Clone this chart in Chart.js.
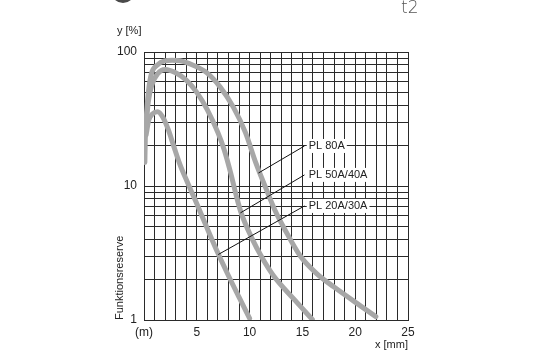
<!DOCTYPE html>
<html>
<head>
<meta charset="utf-8">
<script src="https://cdn.jsdelivr.net/npm/chart.js@4/dist/chart.umd.min.js"></script>
<style>
html,body{margin:0;padding:0;background:#fff;}
canvas{display:block;}
</style>
</head>
<body>
<canvas id="c" width="560" height="352"></canvas>
<script>
// ---- data ----
const seriesNames = ['PL 80A', 'PL 50A/40A', 'PL 20A/30A'];

const pl80X = [0.08, 0.12, 0.29, 0.57, 1.24, 2.66, 3.42, 4.66, 5.99, 7.22, 8.46, 9.6, 10.6, 11.5, 12.4, 13.3, 14.8, 16.3, 18.0, 20.53, 21.96];
const pl80Y = [15, 22, 38.8, 61.6, 79.6, 86.7, 86, 79.6, 69.5, 54.7, 38.8, 25.1, 14.8, 9.8, 6.6, 4.8, 3.0, 2.24, 1.76, 1.27, 1.06];

const pl50X = [0.2, 0.4, 0.75, 1.3, 2.0, 3.0, 4.0, 5.0, 6.0, 7.0, 7.6, 8.2, 8.8, 9.2, 10.2, 11.2, 12.3, 14.2, 15.94];
const pl50Y = [28, 42, 57, 69, 74, 70, 61.7, 50, 37, 25, 18.6, 12.6, 8.1, 6.3, 4.1, 2.9, 2.12, 1.43, 1.01];

const pl20X = [0.2, 0.45, 0.8, 1.3, 1.8, 2.3, 2.8, 3.4, 4.1, 4.85, 5.9, 7.05, 8.0, 9.0, 10.0];
const pl20Y = [24, 31, 34.5, 35.8, 32.4, 26.3, 20, 14.5, 10.7, 7.85, 5.0, 3.09, 2.14, 1.48, 1.03];

const xTickLabels = {0: '(m)', 5: '5', 10: '10', 15: '15', 20: '20', 25: '25'};
const yTickLabels = {1: '1', 10: '10', 100: '100'};
const yGridValues = [1,2,3,4,5,6,7,8,9,10,20,30,40,50,60,70,80,90,100];

// label anchors (data units)
const labelX = [15.6, 15.6, 15.6];
const labelY = [19.9, 12.1, 7.1];
const pointerStartX = [15.2, 15.2, 15.2];
const pointerEndX = [10.84, 9.13, 7.03];
const pointerEndY = [12.5, 6.3, 3.08];

const toPts = (xs, ys) => xs.map((v, i) => ({x: v, y: ys[i]}));

const FONT = '"Liberation Sans", Arial, sans-serif';
const curveColor = '#a7a7a7';

const deco = {
  id: 'deco',
  afterDatasetsDraw(chart) {
    const {ctx, scales: {x, y}} = chart;
    ctx.save();
    ctx.font = '11px ' + FONT;
    ctx.textBaseline = 'middle';
    ctx.textAlign = 'left';
    for (let i = 0; i < seriesNames.length; i++) {
      const sx = x.getPixelForValue(pointerStartX[i]);
      const sy = y.getPixelForValue(labelY[i]);
      const ex = x.getPixelForValue(pointerEndX[i]);
      const ey = y.getPixelForValue(pointerEndY[i]);
      ctx.strokeStyle = '#111';
      ctx.lineWidth = 1;
      ctx.beginPath();
      ctx.moveTo(sx, sy);
      ctx.lineTo(ex, ey);
      ctx.stroke();
      const tx = x.getPixelForValue(labelX[i]);
      const w = ctx.measureText(seriesNames[i]).width;
      ctx.fillStyle = '#fff';
      ctx.fillRect(tx - 2, sy - 7, w + 4, 14);
      ctx.fillStyle = '#222';
      ctx.fillText(seriesNames[i], tx, sy + 0.5);
    }
    ctx.restore();
  },
  afterDraw(chart) {
    const ctx = chart.ctx;
    ctx.save();
    ctx.fillStyle = '#222';
    ctx.font = '11px ' + FONT;
    ctx.textBaseline = 'middle';
    ctx.textAlign = 'left';
    ctx.fillText('y [%]', 117, 31);
    ctx.fillStyle = '#555';
    ctx.font = '200 17px "DejaVu Sans", ' + FONT;
    ctx.textBaseline = 'alphabetic';
    ctx.fillText('t2', 401, 13);
    ctx.fillStyle = '#4a4a4a';
    ctx.beginPath();
    ctx.arc(123, -9, 12, 0, Math.PI * 2);
    ctx.fill();
    ctx.restore();
  }
};

const lineStyle = {
  borderColor: curveColor,
  borderWidth: 5,
  pointRadius: 0,
  fill: false,
  cubicInterpolationMode: 'monotone',
  borderCapStyle: 'round',
  borderJoinStyle: 'round'
};

new Chart(document.getElementById('c'), {
  type: 'line',
  data: {
    datasets: [
      Object.assign({label: seriesNames[0], data: toPts(pl80X, pl80Y)}, lineStyle),
      Object.assign({label: seriesNames[1], data: toPts(pl50X, pl50Y)}, lineStyle),
      Object.assign({label: seriesNames[2], data: toPts(pl20X, pl20Y)}, lineStyle)
    ]
  },
  options: {
    responsive: false,
    animation: false,
    devicePixelRatio: 1,
    layout: {padding: {left: 110, right: 152, top: 52, bottom: 0}},
    plugins: {legend: {display: false}, tooltip: {enabled: false}},
    scales: {
      x: {
        type: 'linear',
        min: 0, max: 25,
        afterBuildTicks: s => { s.ticks = Array.from({length: 26}, (_, i) => ({value: i})); },
        afterFit: s => { s.height = 32; },
        grid: {color: '#2a2a2a', lineWidth: 1, drawTicks: false},
        border: {color: '#2a2a2a', width: 1},
        ticks: {
          autoSkip: false, maxRotation: 0, padding: 5,
          color: '#222', font: {family: FONT, size: 12},
          callback: v => (xTickLabels[v] !== undefined ? xTickLabels[v] : '')
        },
        title: {display: true, text: 'x [mm]', align: 'end', color: '#222',
                font: {family: FONT, size: 11}, padding: {top: 0, bottom: 0}}
      },
      y: {
        type: 'logarithmic',
        min: 1, max: 100,
        afterBuildTicks: s => { s.ticks = yGridValues.map(v => ({value: v})); },
        afterFit: s => { s.width = 34; },
        grid: {color: '#2a2a2a', lineWidth: 1, drawTicks: false},
        border: {color: '#2a2a2a', width: 1},
        ticks: {
          autoSkip: false, padding: 7,
          color: '#222', font: {family: FONT, size: 12},
          callback: v => (yTickLabels[v] !== undefined ? yTickLabels[v] : '')
        },
        title: {display: true, text: 'Funktionsreserve', align: 'start', color: '#222',
                font: {family: FONT, size: 11}, padding: {top: 3, bottom: 0}}
      }
    }
  },
  plugins: [deco]
});
</script>
</body>
</html>
